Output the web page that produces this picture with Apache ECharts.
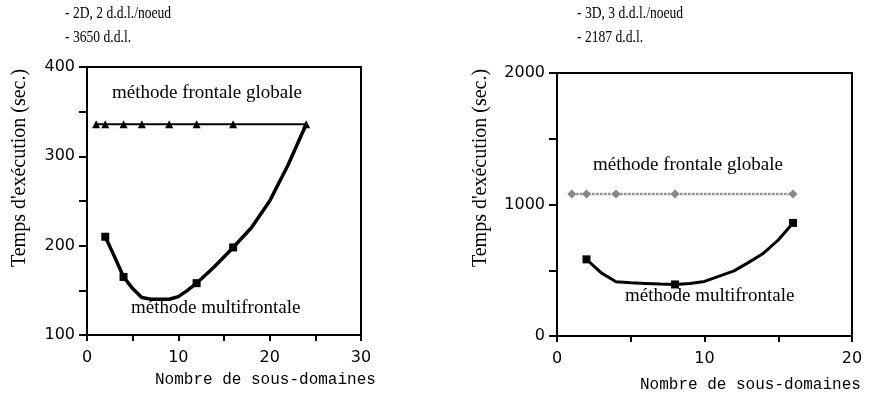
<!DOCTYPE html>
<html>
<head>
<meta charset="utf-8">
<script src="https://cdn.jsdelivr.net/npm/echarts@6/dist/echarts.min.js"></script>
<style>html,body{margin:0;padding:0;background:#fff}#c{width:880px;height:400px}</style>
</head>
<body>
<div id="c"></div>
<script>
// Left chart (2D)
var leftGlobalX = [1, 2, 4, 6, 9, 12, 16, 24];
var leftGlobalY = [336, 336, 336, 336, 336, 336, 336, 336];
var leftMultiX = [2, 3, 4, 5, 6, 7, 8, 9, 10, 11, 12, 14, 16, 18, 20, 22, 24];
var leftMultiY = [210, 188, 165, 152, 142, 140, 140, 140, 143, 150, 158, 177, 198, 220, 250, 290, 336];
var leftMultiMarked = [2, 4, 12, 16];
// Right chart (3D)
var rightGlobalX = [1, 2, 4, 8, 16];
var rightGlobalY = [1080, 1080, 1080, 1080, 1080];
var rightMultiX = [2, 3, 4, 5, 6, 7, 8, 9, 10, 11, 12, 13, 14, 15, 16];
var rightMultiY = [583, 480, 413, 405, 400, 395, 392, 400, 415, 455, 495, 560, 630, 730, 860];
var rightMultiMarked = [2, 8, 16];
// Tick labels
var leftYLabels = [100, 200, 300, 400];
var rightYLabels = [0, 1000, 2000];
var leftXLabels = [0, 10, 20, 30];
var rightXLabels = [0, 10, 20];

function pairs(xs, ys, marked) {
  return xs.map(function (x, i) {
    var o = { value: [x, ys[i]] };
    if (marked && marked.indexOf(x) < 0) o.symbol = 'none';
    return o;
  });
}
function labelFmt(list) {
  return function (v) { return list.indexOf(v) >= 0 ? String(v) : ''; };
}

var tickFont = { fontFamily: 'DejaVu Sans', fontSize: 16, color: '#000' };

function xAxis(idx, max, labels) {
  return {
    gridIndex: idx, type: 'value', min: 0, max: max, interval: 5,
    axisLine: { lineStyle: { color: '#000', width: 2 } },
    axisTick: { show: true, length: 6, lineStyle: { color: '#000', width: 2 } },
    axisLabel: Object.assign({ formatter: labelFmt(labels), margin: 15 }, tickFont),
    splitLine: { show: false }
  };
}
function yAxis(idx, min, max, interval, labels) {
  return {
    gridIndex: idx, type: 'value', min: min, max: max, interval: interval,
    axisLine: { show: true, lineStyle: { color: '#000', width: 2 } },
    axisTick: { show: true, inside: false, length: 8, lineStyle: { color: '#000', width: 2 } },
    axisLabel: Object.assign({ formatter: labelFmt(labels), margin: 12 }, tickFont),
    splitLine: { show: false }
  };
}

var annot = function (x, y, t) {
  return { type: 'text', left: x, top: y, scaleX: 0.8, style: { text: t, font: '17px "Liberation Serif"', fill: '#000' } };
};

var chart = echarts.init(document.getElementById('c'), null, { renderer: 'canvas' });
chart.setOption({
  animation: false,
  backgroundColor: '#fff',
  grid: [
    { left: 87, top: 67, width: 274, height: 268, show: true, borderColor: '#000', borderWidth: 2 },
    { left: 557, top: 73, width: 295, height: 263, show: true, borderColor: '#000', borderWidth: 2 }
  ],
  xAxis: [xAxis(0, 30, leftXLabels), xAxis(1, 20, rightXLabels)],
  yAxis: [yAxis(0, 100, 400, 50, leftYLabels), yAxis(1, 0, 2000, 500, rightYLabels)],
  series: [
    {
      type: 'line', xAxisIndex: 0, yAxisIndex: 0,
      data: pairs(leftGlobalX, leftGlobalY),
      symbol: 'triangle', symbolSize: 8, showAllSymbol: true,
      itemStyle: { color: '#000' },
      lineStyle: { color: '#000', width: 2 }
    },
    {
      type: 'line', xAxisIndex: 0, yAxisIndex: 0,
      data: pairs(leftMultiX, leftMultiY, leftMultiMarked),
      symbol: 'rect', symbolSize: 8, showAllSymbol: true,
      itemStyle: { color: '#000' },
      lineStyle: { color: '#000', width: 3.5 }
    },
    {
      type: 'line', xAxisIndex: 1, yAxisIndex: 1,
      data: pairs(rightGlobalX, rightGlobalY),
      symbol: 'diamond', symbolSize: 9, showAllSymbol: true,
      itemStyle: { color: '#888' },
      lineStyle: { color: '#999', width: 2.5, type: [3, 1] }
    },
    {
      type: 'line', xAxisIndex: 1, yAxisIndex: 1,
      data: pairs(rightMultiX, rightMultiY, rightMultiMarked),
      symbol: 'rect', symbolSize: 8, showAllSymbol: true,
      itemStyle: { color: '#000' },
      lineStyle: { color: '#000', width: 3 }
    }
  ],
  graphic: [
    annot(65, 5, '- 2D, 2 d.d.l./noeud'),
    annot(65, 29, '- 3650 d.d.l.'),
    annot(577, 5, '- 3D, 3 d.d.l./noeud'),
    annot(577, 29, '- 2187 d.d.l.'),
    { type: 'text', left: 112, top: 84, style: { text: 'méthode frontale globale', font: '19px "Liberation Serif"', fill: '#000' } },
    { type: 'text', left: 131, top: 299, style: { text: 'méthode multifrontale', font: '19px "Liberation Serif"', fill: '#000' } },
    { type: 'text', left: 593, top: 156, style: { text: 'méthode frontale globale', font: '19px "Liberation Serif"', fill: '#000' } },
    { type: 'text', left: 625, top: 287, style: { text: 'méthode multifrontale', font: '19px "Liberation Serif"', fill: '#000' } },
    { type: 'text', x: 20, y: 168, rotation: Math.PI / 2, style: { text: "Temps d'exécution (sec.)", font: '20px "Liberation Serif"', fill: '#000', textAlign: 'center', textVerticalAlign: 'middle' } },
    { type: 'text', x: 481, y: 168, rotation: Math.PI / 2, style: { text: "Temps d'exécution (sec.)", font: '20px "Liberation Serif"', fill: '#000', textAlign: 'center', textVerticalAlign: 'middle' } },
    { type: 'text', left: 155, top: 372, style: { text: 'Nombre de sous-domaines', font: '16px "Liberation Mono"', fill: '#000' } },
    { type: 'text', left: 640, top: 377, style: { text: 'Nombre de sous-domaines', font: '16px "Liberation Mono"', fill: '#000' } }
  ]
});
</script>
</body>
</html>
